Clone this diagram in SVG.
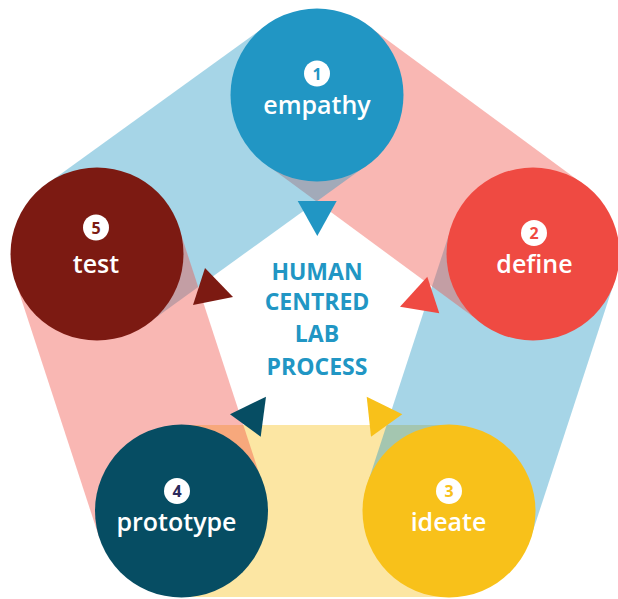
<svg xmlns="http://www.w3.org/2000/svg" width="618" height="599" viewBox="0 0 618 599">
  <style>
    .band-blue { fill: #2196c4; fill-opacity: 0.4; }
    .band-red { fill: #ef4a42; fill-opacity: 0.4; }
    .band-yellow { fill: #f8c11a; fill-opacity: 0.4; }
    .label { font-family: "Open Sans", "Liberation Sans", sans-serif; font-weight: 600; font-size: 25px; fill: #ffffff; text-anchor: middle; }
    .num { font-family: "Open Sans", "Liberation Sans", sans-serif; font-weight: 700; font-size: 16px; text-anchor: middle; }
    .badge { fill: #ffffff; }
    .title { font-family: "Open Sans", "Liberation Sans", sans-serif; font-weight: 700; font-size: 23px; fill: #2196c4; text-anchor: middle; }
  </style>
  <rect width="618" height="599" fill="#ffffff"/>
  <g id="connectors">
    <polygon class="band-yellow" points="181,425 449,425 449,597 181,597"/>
    <polygon class="band-blue" points="614.7,280.7 530.7,537.7 367.3,484.3 451.3,227.3"/>
    <polygon class="band-red" points="368,25.7 584,184.7 482,323.3 266,164.3"/>
    <polygon class="band-blue" points="46.6,184.3 266.6,25.3 367.4,164.7 147.4,323.7"/>
    <polygon class="band-red" points="99.3,537.7 15.3,280.7 178.7,227.3 262.7,484.3"/>
    <polygon fill="#2196c4" points="297.7,201 336.7,201 317.3,236"/>
    <polygon fill="#ef4a42" points="427.3,276.7 400,306.7 439.3,313.3"/>
    <polygon fill="#f8c11a" points="366.7,396.7 402.3,414.3 371,436.7"/>
    <polygon fill="#064d63" points="230,414.3 266,396.7 260.7,436.7"/>
    <polygon fill="#7c1a12" points="205,268 233,297 193,305"/>
  </g>
  <g id="empathy">
    <circle cx="317" cy="95" r="86.5" fill="#2196c4"/>
    <circle class="badge" cx="317" cy="73.5" r="13"/>
    <text class="num" x="317" y="79.5" fill="#2196c4">1</text>
    <text class="label" x="317" y="114">empathy</text>
  </g>
  <g id="define">
    <circle cx="533" cy="254" r="86.5" fill="#ef4a42"/>
    <circle class="badge" cx="534" cy="233" r="13"/>
    <text class="num" x="534" y="239" fill="#ef4a42">2</text>
    <text class="label" x="534.5" y="273">define</text>
  </g>
  <g id="ideate">
    <circle cx="449" cy="511" r="86.5" fill="#f8c11a"/>
    <circle class="badge" cx="449" cy="491" r="13"/>
    <text class="num" x="449" y="497" fill="#f8c11a">3</text>
    <text class="label" x="448.5" y="531">ideate</text>
  </g>
  <g id="prototype">
    <circle cx="181.5" cy="511" r="86.5" fill="#064d63"/>
    <circle class="badge" cx="177" cy="491" r="13"/>
    <text class="num" x="177" y="497" fill="#2b2a5c">4</text>
    <text class="label" x="176.5" y="531">prototype</text>
  </g>
  <g id="test">
    <circle cx="97" cy="254" r="86.5" fill="#7c1a12"/>
    <circle class="badge" cx="96" cy="227.5" r="13"/>
    <text class="num" x="96" y="233.5" fill="#7c1a12">5</text>
    <text class="label" x="96" y="273">test</text>
  </g>
  <g id="center-title">
    <text class="title" x="317" y="280">HUMAN</text>
    <text class="title" x="317" y="310">CENTRED</text>
    <text class="title" x="317" y="342">LAB</text>
    <text class="title" x="317" y="375">PROCESS</text>
  </g>
</svg>
